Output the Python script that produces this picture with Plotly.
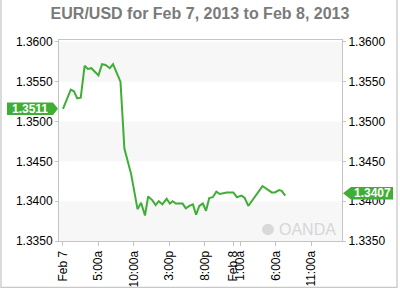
import plotly.graph_objects as go

# hours since Feb 7 00:00
hours = [0, 1.1, 1.55, 2.0, 2.5, 3.05, 3.5, 4.0, 5.0, 5.5, 6.0, 6.6, 7.05, 7.6, 8.1,
         8.65, 9.6, 10.5, 11.0, 11.55, 12.0, 12.6, 13.05, 13.5, 14.0, 14.6, 15.05,
         15.45, 15.9, 16.85, 17.3, 17.8, 18.3, 18.75, 19.2, 19.7, 20.15, 20.6, 21.1,
         21.6, 22.1, 23.05, 24.0, 24.5, 25.15, 25.6, 26.1, 28.1, 28.6, 29.4, 29.85,
         30.45, 30.8, 31.3]
prices = [1.3516, 1.3540, 1.3538, 1.3529, 1.3530, 1.3570, 1.3566, 1.3567, 1.3558,
          1.3572, 1.3571, 1.3567, 1.3572, 1.3560, 1.3550, 1.3466, 1.3434, 1.3390,
          1.3398, 1.3382, 1.3406, 1.3401, 1.3395, 1.3400, 1.3396, 1.3403, 1.3397,
          1.3400, 1.3397, 1.3397, 1.3391, 1.3394, 1.3396, 1.3383, 1.3394, 1.3397,
          1.3388, 1.3404, 1.3405, 1.3412, 1.3409, 1.3411, 1.3411, 1.3405, 1.3407,
          1.3404, 1.3394, 1.3419, 1.3416, 1.3411, 1.3411, 1.3414, 1.3413, 1.3407]

tick_hours = [0, 5, 10, 15, 20, 24, 25, 30, 35]
tick_labels = ["Feb 7", "5:00a", "10:00a", "3:00p", "8:00p", "Feb 8", "1:00a", "6:00a", "11:00a"]
y_ticks = [1.3350, 1.3400, 1.3450, 1.3500, 1.3550, 1.3600]
y_tick_labels = ["1.3350", "1.3400", "1.3450", "1.3500", "1.3550", "1.3600"]
open_label = "1.3511"
last_label = "1.3407"

GREEN = "#3fae36"
W, H = 400, 300
ML, MR, MT, MB = 59, 58, 40, 50
PW, PH = W - ML - MR, H - MT - MB


def px(x):
    return (x - ML) / PW


def py(y):
    return (H - MB - y) / PH


YR = [1.3350, 1.36024]
dy = (YR[1] - YR[0]) / PH

fig = go.Figure()
fig.add_trace(go.Scatter(x=hours, y=prices, mode="lines",
                         line=dict(color=GREEN, width=2), hoverinfo="skip"))
fig.add_trace(go.Scatter(x=hours, y=prices, mode="lines", yaxis="y2",
                         line=dict(color="rgba(0,0,0,0)", width=0), hoverinfo="skip",
                         showlegend=False))

shapes = []
# alternating bands
for i in range(len(y_ticks) - 1):
    if (len(y_ticks) - 2 - i) % 2 == 0:
        shapes.append(dict(type="rect", xref="paper", yref="y", x0=0, x1=1,
                           y0=y_ticks[i], y1=y_ticks[i + 1], fillcolor="#f7f7f7",
                           line=dict(width=0), layer="below"))

# outer frame
shapes.append(dict(type="rect", xref="paper", yref="paper", x0=px(1), x1=px(397),
                   y0=py(298.5), y1=py(-3), line=dict(color="#c8c8c8", width=1.3),
                   fillcolor="rgba(0,0,0,0)"))

# price flags
def flag(y, left=True):
    h = 6.5 * dy
    if left:
        x0, x1, tip = px(7), px(53), px(58)
        path = (f"M {x0},{y - h} L {x1},{y - h} L {tip},{y} L {x1},{y + h} "
                f"L {x0},{y + h} Z")
    else:
        x0, x1, tip = px(351), px(393), px(343)
        path = (f"M {x1},{y - h} L {x0},{y - h} L {tip},{y} L {x0},{y + h} "
                f"L {x1},{y + h} Z")
    return dict(type="path", xref="paper", yref="y", path=path,
                fillcolor=GREEN, line=dict(width=0), layer="above")

first_y = prices[0]
last_y = prices[-1] + 2.5 * dy
shapes.append(flag(first_y, True))
shapes.append(flag(last_y, False))

# watermark circle
shapes.append(dict(type="circle", xref="paper", yref="paper",
                   x0=px(262), x1=px(274), y0=py(244), y1=py(232),
                   fillcolor="#d9d9d9", line=dict(width=0), layer="above"))

annotations = [
    dict(xref="paper", yref="y", x=px(30), y=first_y, text=f"<b>{open_label}</b>",
         showarrow=False, font=dict(color="white", size=12, family="Liberation Sans, Arial"),
         xanchor="center", yanchor="middle"),
    dict(xref="paper", yref="y", x=px(372), y=last_y, text=f"<b>{last_label}</b>",
         showarrow=False, font=dict(color="white", size=12, family="Liberation Sans, Arial"),
         xanchor="center", yanchor="middle"),
    dict(xref="paper", yref="paper", x=px(277), y=py(238), text="OANDA",
         showarrow=False, font=dict(color="#d6d6d6", size=16, family="Liberation Sans, Arial"),
         xanchor="left", yanchor="middle"),
]

fig.update_layout(
    width=W, height=H,
    margin=dict(l=ML, r=MR, t=MT, b=MB),
    paper_bgcolor="white", plot_bgcolor="white",
    showlegend=False,
    title=dict(text="<b>EUR/USD for Feb 7, 2013 to Feb 8, 2013</b>",
               x=0.5, xref="container", xanchor="center",
               y=1 - 13 / H, yref="container", yanchor="middle",
               font=dict(size=16, color="#7a7a7a", family="Liberation Sans, Arial")),
    font=dict(family="Liberation Sans, Arial", size=12, color="black"),
    xaxis=dict(range=[-0.56, 39.3], tickvals=tick_hours, ticktext=tick_labels,
               tickangle=-90, showgrid=False, zeroline=False, showline=True,
               linecolor="#c4c4c4", linewidth=1, mirror=True, ticks="outside",
               ticklen=4, tickcolor="#c4c4c4", tickfont=dict(size=12, color="black")),
    yaxis=dict(range=YR, tickvals=y_ticks, ticktext=y_tick_labels, showgrid=False,
               zeroline=False, showline=True, linecolor="#c4c4c4", linewidth=1,
               mirror=True, ticks="outside", ticklen=3, tickcolor="#c4c4c4",
               tickfont=dict(size=12, color="black")),
    yaxis2=dict(range=YR, tickvals=y_ticks, ticktext=y_tick_labels, overlaying="y",
                side="right", matches="y", showgrid=False, zeroline=False,
                ticks="outside", ticklen=3, tickcolor="#c4c4c4",
                tickfont=dict(size=12, color="black")),
    shapes=shapes,
    annotations=annotations,
)

fig.write_html("out.html")
